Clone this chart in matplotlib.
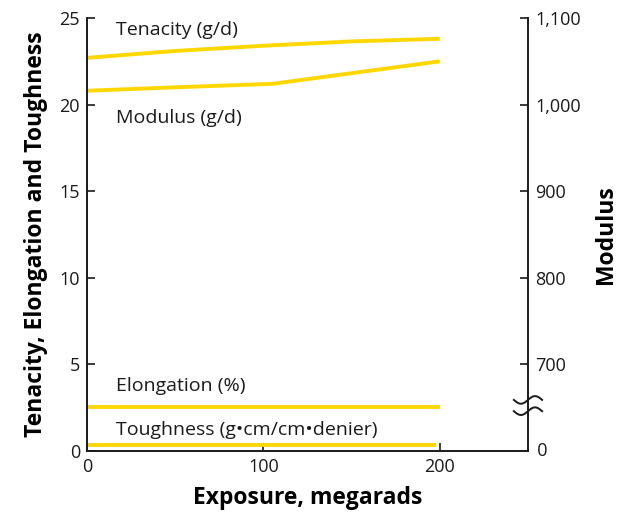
#!/usr/bin/env python
# -*- coding: utf-8 -*-

"""
Fibre properties vs radiation exposure (tenacity, elongation, toughness, modulus).
"""

import numpy as np
import matplotlib
matplotlib.use('Agg')
from matplotlib import pyplot as plt

# data
tenacity_x = [0, 50, 100, 150, 200]
tenacity = [22.7, 23.1, 23.4, 23.65, 23.8]
modulus_x = [0, 50, 105, 200]
modulus = [1016, 1020, 1024, 1050]
elongation_x = [0, 200]
elongation = [2.55, 2.55]
toughness_x = [0, 198]
toughness = [0.35, 0.35]

left_ticks = [0, 5, 10, 15, 20, 25]
right_ticks = [700, 800, 900, 1000, 1100]
right_labels = ['700', '800', '900', '1,000', '1,100']
x_ticks = [0, 100, 200]

# right axis: 700..1100 shares the scale of 5..25 on the left
def mod_to_left(m):
    return (np.asarray(m, dtype=float) - 600.0) / 20.0

plt.rcParams['font.family'] = ['Open Sans', 'DejaVu Sans']
yellow = '#FFD700'
ink = '#1a1a1a'

fig = plt.figure(figsize=(6.2, 5.19), dpi=100)
ax = fig.add_axes((0.1403, 0.131, 0.7113, 0.8343))

lw = 2.8
ax.plot(tenacity_x, tenacity, color=yellow, lw=lw, solid_capstyle='butt')
ax.plot(modulus_x, mod_to_left(modulus), color=yellow, lw=lw, solid_capstyle='butt')
ax.plot(elongation_x, elongation, color=yellow, lw=lw, solid_capstyle='butt')
ax.plot(toughness_x, toughness, color=yellow, lw=lw, solid_capstyle='butt')

ax.set_xlim(0, 250)
ax.set_ylim(0, 25)
ax.spines['top'].set_visible(False)
for s in ['left', 'right', 'bottom']:
    ax.spines[s].set_linewidth(1.4)
    ax.spines[s].set_color(ink)

ax.set_xticks(x_ticks)
ax.set_yticks(left_ticks)
ax.tick_params(axis='both', direction='in', length=6, width=1.2, color=ink,
               labelsize=13, labelcolor=ink)
ax.tick_params(axis='x', pad=5)
ax.tick_params(axis='y', pad=5)

ax2 = ax.twinx()
ax2.set_ylim(0, 25)
ax2.set_yticks(mod_to_left(right_ticks))
ax2.set_yticklabels(right_labels)
ax2.spines['top'].set_visible(False)
for s in ['left', 'right', 'bottom']:
    ax2.spines[s].set_visible(False)
ax2.tick_params(axis='y', direction='in', length=6, width=1.2, color=ink,
                labelsize=13, labelcolor=ink, pad=5)
ax2.text(1.0, 0.0, '  0', transform=ax2.transAxes, ha='left', va='center',
         fontsize=13, color=ink)

# axis break marks on the right spine
t = np.linspace(-1, 1, 60)
for yb in [2.95, 2.3]:
    bx = 250 + 8 * t
    by = yb + 0.22 * np.sin(np.pi * t)
    ax.plot(bx, by, color=ink, lw=1.4, clip_on=False)

# series labels
lab_kw = dict(fontsize=14, color=ink, ha='left', va='center')
ax.text(16.5, 24.3, 'Tenacity (g/d)', **lab_kw)
ax.text(16.5, 19.2, 'Modulus (g/d)', **lab_kw)
ax.text(16.5, 3.75, 'Elongation (%)', **lab_kw)
ax.text(16.5, 1.2, 'Toughness (g\u2022cm/cm\u2022denier)', **lab_kw)

ax.set_xlabel('Exposure, megarads', fontsize=16.5, fontweight='bold', color='black',
              labelpad=7)
ax.set_ylabel('Tenacity, Elongation and Toughness', fontsize=16.5, fontweight='bold',
              color='black', labelpad=8)
ax2.set_ylabel('Modulus', fontsize=16.5, fontweight='bold', color='black', labelpad=10)

plt.savefig('out.png', dpi=100)
